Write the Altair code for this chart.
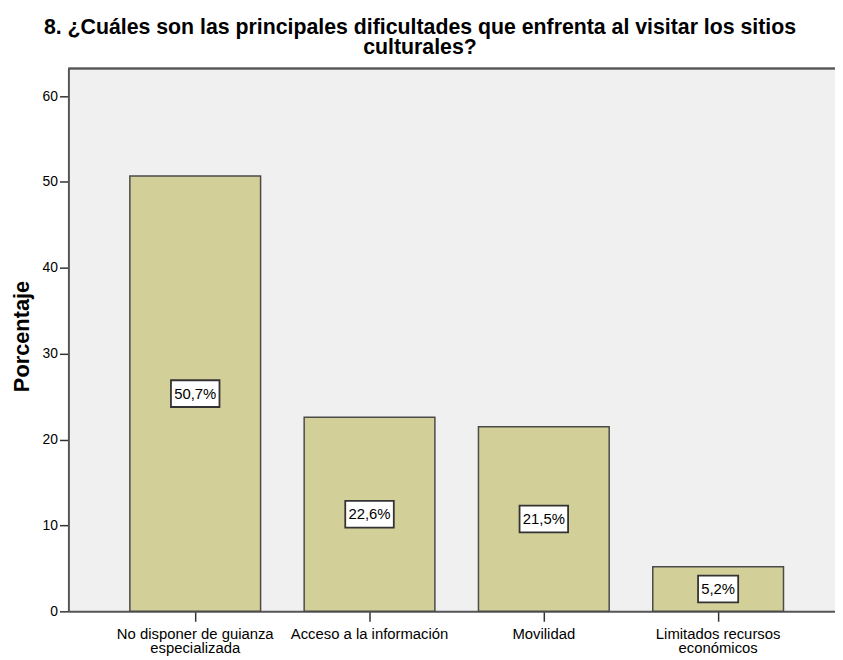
import altair as alt
import pandas as pd

categories = ["No disponer de guianza|especializada", "Acceso a la información", "Movilidad", "Limitados recursos|económicos"]
percentages = [50.7, 22.6, 21.5, 5.2]
value_labels = ["50,7%", "22,6%", "21,5%", "5,2%"]
y_ticks = [0, 10, 20, 30, 40, 50, 60]

df = pd.DataFrame({"cat": categories, "pct": percentages, "lab": value_labels})

W, H = 774, 548
FONT = "Liberation Sans"

x = alt.X(
    "cat:N", sort=categories,
    scale=alt.Scale(paddingInner=0.25, paddingOuter=0.324, align=0.544),
    axis=alt.Axis(title=None, labelExpr="split(datum.label, '|')", labelAngle=0,
                  labelFont=FONT, labelFontSize=15, labelColor="#000",
                  tickColor="#333", tickSize=10, tickWidth=1.5,
                  domainColor="#555", domainWidth=2, labelPadding=5,
                  labelLineHeight=15, labelBaseline="top"),
)
y = alt.Y(
    "pct:Q", scale=alt.Scale(domain=[0, 63.2], nice=False),
    axis=alt.Axis(title="Porcentaje", values=y_ticks, grid=False,
                  labelFont=FONT, labelFontSize=14, labelColor="#000",
                  tickColor="#333", tickSize=9, tickWidth=1.5, labelPadding=2,
                  domainColor="#555", domainWidth=2,
                  titleFont=FONT, titleFontSize=22, titleFontWeight="bold",
                  titleColor="#000", titleX=-47, titleY=270,
                  titleAlign="center", titleBaseline="middle", titleAngle=270),
)

base = alt.Chart(df)

bars = base.mark_bar(color="#d3cf98", stroke="#4a4a4a", strokeWidth=1.5).encode(x=x, y=y)

boxes = base.transform_calculate(
    mid="datum.pct / 2",
    bw="length(datum.lab) * 8.5 + 6.5",
).transform_calculate(
    hh="13.5 / (datum.bw / 2)",
    sz="datum.bw * datum.bw",
).transform_calculate(
    shp="'M-1,' + (-datum.hh) + 'L1,' + (-datum.hh) + 'L1,' + datum.hh + 'L-1,' + datum.hh + 'Z'",
).mark_point(filled=True, fill="white", stroke="#333", strokeWidth=1.8, opacity=1).encode(
    x=x,
    y=alt.Y("mid:Q"),
    shape=alt.Shape("shp:N", scale=None),
    size=alt.Size("sz:Q", scale=None),
)

texts = base.transform_calculate(mid="datum.pct / 2").mark_text(
    font=FONT, fontSize=15, color="#000"
).encode(x=x, y=alt.Y("mid:Q"), text="lab:N")

top_border = alt.Chart(df).mark_rule(color="#555", strokeWidth=1.5).encode(
    x=alt.value(0), x2=alt.value(W), y=alt.value(0)
)

chart = alt.layer(bars, boxes, texts, top_border).properties(
    width=W, height=H,
    title=alt.TitleParams(
        text=["8. ¿Cuáles son las principales dificultades  que enfrenta al visitar los sitios", "culturales?"],
        font=FONT, fontSize=21.5, fontWeight="bold", lineHeight=21,
        anchor="middle", frame="group", offset=0, dx=-32, dy=8, color="#000",
        baseline="alphabetic",
    ),
    autosize=alt.AutoSizeParams(type="none"),
    padding={"left": 61, "top": 58, "right": 0, "bottom": 50},
    background="white",
).configure_view(stroke=None, fill="#f0f0f0").configure_legend(disable=True)

chart.save("out.html", embed_options={"renderer": "svg", "actions": False})
